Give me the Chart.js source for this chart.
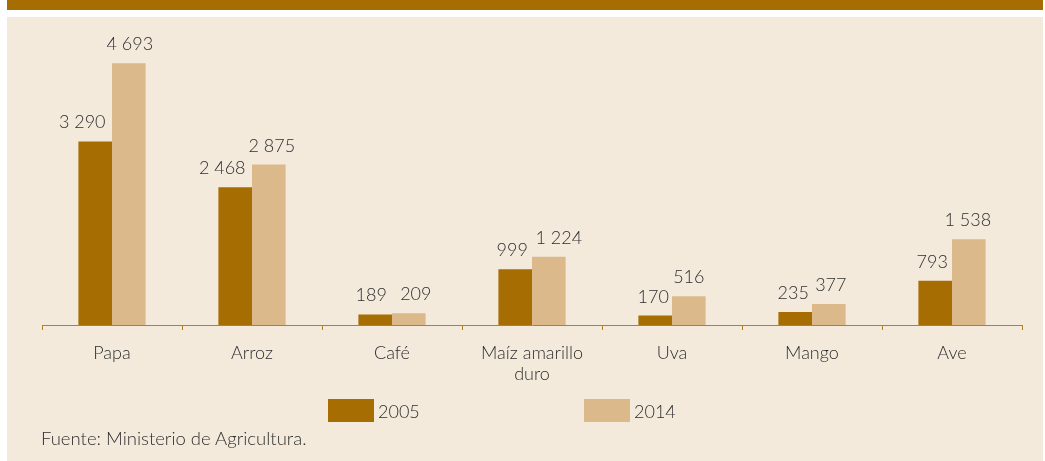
<!DOCTYPE html>
<html>
<head>
<meta charset="utf-8">
<script src="https://cdn.jsdelivr.net/npm/chart.js@4"></script>
<style>
    html, body { margin: 0; padding: 0; background: #ffffff; }
    body { width: 1045px; height: 461px; position: relative; overflow: hidden; font-family: Lato, sans-serif; font-weight: 300; color: #2e2e2e; }
    #topBar { position: absolute; left: 7px; top: 0; width: 1036px; height: 10px; background: #A66D03; }
    #panel { position: absolute; left: 7px; top: 17px; width: 1036px; height: 444px; background: #F4EADC; }
    #chartBox { position: absolute; left: 0; top: 0; width: 1045px; height: 461px; }
    #legend { position: absolute; top: 399px; left: 0; height: 23px; }
    .item { position: absolute; top: 0; display: flex; align-items: center; white-space: nowrap; font-size: 18px; }
    .swatch { width: 46px; height: 23px; margin-right: 4px; }
    #source { position: absolute; left: 41px; top: 427px; font-size: 18.5px; line-height: 22px; }
</style>
</head>
<body>
<div id="topBar"></div>
<div id="panel"></div>
<div id="chartBox"><canvas id="chart" width="1045" height="461"></canvas></div>
<div id="legend"></div>
<div id="source">Fuente: Ministerio de Agricultura.</div>
<script>
    const categories = ['Papa', 'Arroz', 'Café', ['Maíz amarillo', 'duro'], 'Uva', 'Mango', 'Ave'];
    const values2005 = [3290, 2468, 189, 999, 170, 235, 793];
    const values2014 = [4693, 2875, 209, 1224, 516, 377, 1538];
    const seriesNames = ['2005', '2014'];
    const seriesColors = ['#A66D03', '#DBB98A'];
    const legendPositions = [328, 584];

    // small horizontal nudges of the value labels, as in the original layout
    const labelNudge = [
        [-13, -13, -4, -3, -2, -2, -3],
        [1, 3, 7, 10, 0, 2, -1]
    ];

    const fontFamily = 'Lato, sans-serif';
    const textColor = '#2e2e2e';

    function formatValue(v) {
        return String(v).replace(/\B(?=(\d{3})+(?!\d))/g, ' ');
    }

    // draws the values above each bar
    const valueLabels = {
        id: 'valueLabels',
        afterDatasetsDraw(chart) {
            const ctx = chart.ctx;
            ctx.save();
            ctx.font = '300 18px ' + fontFamily;
            ctx.fillStyle = textColor;
            ctx.textAlign = 'center';
            ctx.textBaseline = 'alphabetic';
            chart.data.datasets.forEach((ds, i) => {
                const meta = chart.getDatasetMeta(i);
                meta.data.forEach((bar, j) => {
                    ctx.fillText(formatValue(ds.data[j]), bar.x + labelNudge[i][j], bar.y - 13);
                });
            });
            ctx.restore();
        }
    };

    const ctx = document.getElementById('chart').getContext('2d');
    const chart = new Chart(ctx, {
        type: 'bar',
        data: {
            labels: categories,
            datasets: [{
                label: seriesNames[0],
                data: values2005,
                backgroundColor: seriesColors[0]
            }, {
                label: seriesNames[1],
                data: values2014,
                backgroundColor: seriesColors[1]
            }]
        },
        options: {
            responsive: false,
            animation: false,
            layout: { padding: { left: 42, right: 23, top: 46, bottom: 0 } },
            datasets: { bar: { categoryPercentage: 0.48, barPercentage: 1.0 } },
            plugins: {
                legend: { display: false },
                tooltip: { enabled: false }
            },
            scales: {
                x: {
                    offset: true,
                    grid: { offset: true, drawOnChartArea: false, color: '#B5801F', tickLength: 5, lineWidth: 1 },
                    border: { color: '#B5801F', width: 1 },
                    ticks: { color: textColor, font: { family: fontFamily, size: 18, weight: '300', lineHeight: 1.17 }, padding: 13, maxRotation: 0, autoSkip: false },
                    afterFit: function (scale) { scale.height = 136; }
                },
                y: {
                    display: false,
                    min: 0,
                    max: 5000
                }
            }
        },
        plugins: [valueLabels]
    });

    const legend = document.getElementById('legend');
    seriesNames.forEach((name, i) => {
        const item = document.createElement('div');
        item.className = 'item';
        item.style.left = legendPositions[i] + 'px';
        const sw = document.createElement('span');
        sw.className = 'swatch';
        sw.style.background = seriesColors[i];
        const txt = document.createElement('span');
        txt.textContent = name;
        item.appendChild(sw);
        item.appendChild(txt);
        legend.appendChild(item);
    });
</script>
</body>
</html>
